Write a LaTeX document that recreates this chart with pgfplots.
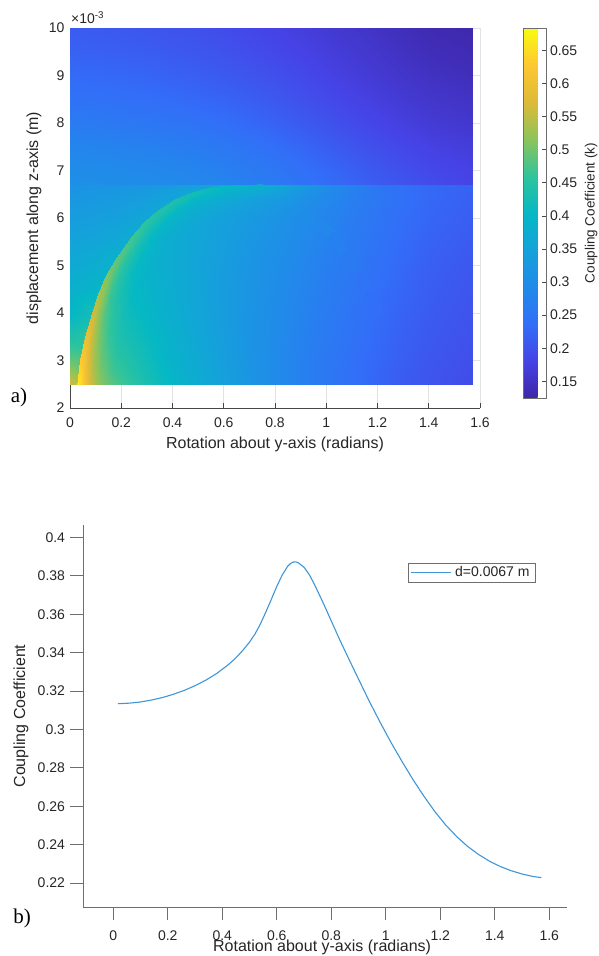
\documentclass[border=0pt]{standalone}
\usepackage{pgfplots}
\pgfplotsset{compat=1.18}
\usepackage{fontspec}
\setmainfont{Liberation Sans}
\newfontfamily\seriffont{Liberation Serif}
\definecolor{txt}{RGB}{38,38,38}
\definecolor{axgray}{RGB}{110,110,110}
\definecolor{axdark}{RGB}{70,70,70}
\definecolor{gridc}{RGB}{226,226,226}
\definecolor{mline}{RGB}{62,150,215}
\newcommand\fs{\fontsize{14bp}{16bp}\selectfont}
\newcommand\fl{\fontsize{16bp}{18bp}\selectfont}
\newcommand\fc{\fontsize{13.5bp}{16bp}\selectfont}
\pgfplotsset{
  /pgf/number format/assume math mode=true,
  colormap={parula}{
    rgb255(0)=(62,38,168)
    rgb255(1)=(70,67,230)
    rgb255(2)=(50,110,248)
    rgb255(3)=(33,138,234)
    rgb255(4)=(20,162,218)
    rgb255(5)=(5,184,196)
    rgb255(6)=(48,196,155)
    rgb255(7)=(140,196,90)
    rgb255(8)=(222,186,55)
    rgb255(9)=(253,200,50)
    rgb255(10)=(249,251,14)
  },
}
\begin{document}
\begin{tikzpicture}
\path[use as bounding box] (0,0) rectangle (599bp,956bp);

% ---------------- panel a ----------------
\begin{axis}[
  at={(70bp,548bp)}, anchor=south west,
  scale only axis, width=410bp, height=380bp,
  xmin=0, xmax=1.6, ymin=2, ymax=10,
  xtick={0,0.2,0.4,0.6,0.8,1,1.2,1.4,1.6},
  xticklabels={0,0.2,0.4,0.6,0.8,1,1.2,1.4,1.6},
  ytick={2,3,4,5,6,7,8,9,10},
  yticklabels={2,3,4,5,6,7,8,9,10},
  axis x line*=bottom, axis y line*=left,
  axis line style={axdark, line width=0.6bp},
  tick align=inside, major tick length=5bp,
  tick style={axdark, line width=0.6bp},
  grid=major, grid style={gridc, line width=0.6bp},
  xticklabel style={font=\fs, text=txt, yshift=-6bp},
  yticklabel style={font=\fs, text=txt, xshift=-2bp},
  every axis x label/.style={at={(axis description cs:0.5,-0.097)}, anchor=center, font=\fl, text=txt},
  every axis y label/.style={at={(axis description cs:-0.0878,0.5)}, rotate=90, anchor=center, font=\fl, text=txt},
  xlabel={Rotation about y-axis (radians)},
  ylabel={displacement along z-axis (m)},
  colormap name=parula,
  point meta min=0.1248, point meta max=0.6837,
  colorbar,
  colorbar style={
    at={(parent axis.north east)}, anchor=north west, xshift=35bp,
    scale only axis, width=23bp, height=370bp,
    ytick={0.15,0.2,0.25,0.3,0.35,0.4,0.45,0.5,0.55,0.6,0.65},
    yticklabels={0.15,0.2,0.25,0.3,0.35,0.4,0.45,0.5,0.55,0.6,0.65},
    ytick pos=right, yticklabel pos=right,
    tick align=inside, major tick length=5bp,
    tick style={axdark, line width=0.6bp},
    axis line style={axgray, line width=0.6bp},
    yticklabel style={font=\fs, text=txt},
    every axis y label/.style={at={(axis description cs:2.935,0.5)}, rotate=90, anchor=center, font=\fc, text=txt},
    ylabel={Coupling Coefficient (k)},
  },
]
% background field
\addplot[surf, shader=interp, mesh/cols=16, point meta=explicit] table[x=x, y=y, meta=v] {
x y v
0 2.5 0.56
0.1 2.5 0.52
0.2 2.5 0.47
0.3 2.5 0.43
0.4 2.5 0.40
0.5 2.5 0.37
0.6 2.5 0.345
0.7 2.5 0.32
0.8 2.5 0.295
0.9 2.5 0.275
1.0 2.5 0.255
1.1 2.5 0.24
1.2 2.5 0.225
1.3 2.5 0.212
1.4 2.5 0.203
1.5708 2.5 0.192
0 3.0 0.49
0.1 3.0 0.48
0.2 3.0 0.45
0.3 3.0 0.42
0.4 3.0 0.39
0.5 3.0 0.365
0.6 3.0 0.34
0.7 3.0 0.317
0.8 3.0 0.295
0.9 3.0 0.275
1.0 3.0 0.257
1.1 3.0 0.242
1.2 3.0 0.228
1.3 3.0 0.216
1.4 3.0 0.206
1.5708 3.0 0.195
0 3.5 0.44
0.1 3.5 0.46
0.2 3.5 0.435
0.3 3.5 0.41
0.4 3.5 0.385
0.5 3.5 0.36
0.6 3.5 0.337
0.7 3.5 0.316
0.8 3.5 0.296
0.9 3.5 0.277
1.0 3.5 0.26
1.1 3.5 0.245
1.2 3.5 0.231
1.3 3.5 0.219
1.4 3.5 0.209
1.5708 3.5 0.198
0 4.0 0.40
0.1 4.0 0.43
0.2 4.0 0.425
0.3 4.0 0.40
0.4 4.0 0.378
0.5 4.0 0.356
0.6 4.0 0.335
0.7 4.0 0.316
0.8 4.0 0.298
0.9 4.0 0.28
1.0 4.0 0.263
1.1 4.0 0.248
1.2 4.0 0.234
1.3 4.0 0.222
1.4 4.0 0.212
1.5708 4.0 0.201
0 4.5 0.383
0.1 4.5 0.395
0.2 4.5 0.415
0.3 4.5 0.395
0.4 4.5 0.374
0.5 4.5 0.354
0.6 4.5 0.335
0.7 4.5 0.317
0.8 4.5 0.30
0.9 4.5 0.283
1.0 4.5 0.267
1.1 4.5 0.252
1.2 4.5 0.238
1.3 4.5 0.226
1.4 4.5 0.215
1.5708 4.5 0.204
0 5.0 0.367
0.1 5.0 0.375
0.2 5.0 0.395
0.3 5.0 0.39
0.4 5.0 0.372
0.5 5.0 0.353
0.6 5.0 0.336
0.7 5.0 0.319
0.8 5.0 0.303
0.9 5.0 0.287
1.0 5.0 0.271
1.1 5.0 0.256
1.2 5.0 0.242
1.3 5.0 0.229
1.4 5.0 0.218
1.5708 5.0 0.207
0 5.5 0.351
0.1 5.5 0.357
0.2 5.5 0.367
0.3 5.5 0.385
0.4 5.5 0.372
0.5 5.5 0.355
0.6 5.5 0.339
0.7 5.5 0.323
0.8 5.5 0.308
0.9 5.5 0.292
1.0 5.5 0.276
1.1 5.5 0.26
1.2 5.5 0.246
1.3 5.5 0.233
1.4 5.5 0.222
1.5708 5.5 0.211
0 6.0 0.335
0.1 6.0 0.34
0.2 6.0 0.347
0.3 6.0 0.358
0.4 6.0 0.372
0.5 6.0 0.36
0.6 6.0 0.345
0.7 6.0 0.33
0.8 6.0 0.315
0.9 6.0 0.299
1.0 6.0 0.282
1.1 6.0 0.265
1.2 6.0 0.25
1.3 6.0 0.237
1.4 6.0 0.226
1.5708 6.0 0.215
0 6.5 0.32
0.1 6.5 0.323
0.2 6.5 0.328
0.3 6.5 0.336
0.4 6.5 0.348
0.5 6.5 0.366
0.6 6.5 0.36
0.7 6.5 0.35
0.8 6.5 0.333
0.9 6.5 0.313
1.0 6.5 0.292
1.1 6.5 0.272
1.2 6.5 0.255
1.3 6.5 0.241
1.4 6.5 0.23
1.5708 6.5 0.219
0 6.7 0.313
0.1 6.7 0.315
0.2 6.7 0.317
0.3 6.7 0.322
0.4 6.7 0.330
0.5 6.7 0.347
0.6 6.7 0.375
0.7 6.7 0.384
0.8 6.7 0.357
0.9 6.7 0.327
1.0 6.7 0.298
1.1 6.7 0.274
1.2 6.7 0.2505
1.3 6.7 0.239
1.4 6.7 0.229
1.5708 6.7 0.223
0 6.71 0.305
0.1 6.71 0.303
0.2 6.71 0.30
0.3 6.71 0.297
0.4 6.71 0.293
0.5 6.71 0.287
0.6 6.71 0.28
0.7 6.71 0.27
0.8 6.71 0.26
0.9 6.71 0.248
1.0 6.71 0.236
1.1 6.71 0.224
1.2 6.71 0.212
1.3 6.71 0.202
1.4 6.71 0.193
1.5708 6.71 0.182
0 7.0 0.298
0.1 7.0 0.296
0.2 7.0 0.293
0.3 7.0 0.29
0.4 7.0 0.286
0.5 7.0 0.28
0.6 7.0 0.272
0.7 7.0 0.263
0.8 7.0 0.253
0.9 7.0 0.242
1.0 7.0 0.23
1.1 7.0 0.218
1.2 7.0 0.207
1.3 7.0 0.197
1.4 7.0 0.188
1.5708 7.0 0.178
0 7.5 0.283
0.1 7.5 0.281
0.2 7.5 0.278
0.3 7.5 0.275
0.4 7.5 0.27
0.5 7.5 0.264
0.6 7.5 0.257
0.7 7.5 0.248
0.8 7.5 0.238
0.9 7.5 0.227
1.0 7.5 0.216
1.1 7.5 0.205
1.2 7.5 0.195
1.3 7.5 0.186
1.4 7.5 0.178
1.5708 7.5 0.169
0 8.0 0.262
0.1 8.0 0.26
0.2 8.0 0.257
0.3 8.0 0.254
0.4 8.0 0.25
0.5 8.0 0.245
0.6 8.0 0.238
0.7 8.0 0.23
0.8 8.0 0.221
0.9 8.0 0.211
1.0 8.0 0.201
1.1 8.0 0.191
1.2 8.0 0.182
1.3 8.0 0.174
1.4 8.0 0.166
1.5708 8.0 0.158
0 8.5 0.245
0.1 8.5 0.243
0.2 8.5 0.241
0.3 8.5 0.238
0.4 8.5 0.234
0.5 8.5 0.229
0.6 8.5 0.223
0.7 8.5 0.216
0.8 8.5 0.208
0.9 8.5 0.199
1.0 8.5 0.19
1.1 8.5 0.181
1.2 8.5 0.172
1.3 8.5 0.164
1.4 8.5 0.157
1.5708 8.5 0.15
0 9.0 0.232
0.1 9.0 0.23
0.2 9.0 0.228
0.3 9.0 0.225
0.4 9.0 0.221
0.5 9.0 0.216
0.6 9.0 0.21
0.7 9.0 0.204
0.8 9.0 0.197
0.9 9.0 0.189
1.0 9.0 0.18
1.1 9.0 0.171
1.2 9.0 0.163
1.3 9.0 0.155
1.4 9.0 0.148
1.5708 9.0 0.141
0 9.5 0.221
0.1 9.5 0.219
0.2 9.5 0.217
0.3 9.5 0.214
0.4 9.5 0.21
0.5 9.5 0.206
0.6 9.5 0.2
0.7 9.5 0.194
0.8 9.5 0.187
0.9 9.5 0.18
1.0 9.5 0.172
1.1 9.5 0.164
1.2 9.5 0.156
1.3 9.5 0.148
1.4 9.5 0.141
1.5708 9.5 0.135
0 10 0.212
0.1 10 0.21
0.2 10 0.208
0.3 10 0.205
0.4 10 0.201
0.5 10 0.197
0.6 10 0.192
0.7 10 0.186
0.8 10 0.179
0.9 10 0.172
1.0 10 0.164
1.1 10 0.157
1.2 10 0.149
1.3 10 0.142
1.4 10 0.135
1.5708 10 0.128
};
\begin{scope}
\clip (axis cs:0,2.5) rectangle (axis cs:1.5708,6.7);
% faint right arc
\addplot[mesh, point meta=explicit, line width=10bp, line cap=round] table[meta=m] {
x y m
0.74 6.62 0.364
0.82 6.45 0.336
0.90 6.22 0.312
0.97 5.93 0.293
1.03 5.60 0.279
1.08 5.20 0.268
1.13 4.80 0.255
1.17 4.40 0.243
1.20 4.00 0.234
};
% ridge ribbon: rows are offsets 0,3,7,13,21,32 px inward from the sharp outer edge
\addplot[surf, shader=interp, mesh/cols=18, point meta=explicit] table[x=x, y=y, meta=m] {
x y m
0.026 2.45 0.665
0.040 3.00 0.63
0.059 3.50 0.595
0.085 4.00 0.56
0.110 4.41 0.535
0.140 4.80 0.51
0.176 5.12 0.49
0.240 5.60 0.47
0.290 5.92 0.455
0.345 6.17 0.445
0.410 6.39 0.435
0.475 6.55 0.425
0.550 6.66 0.415
0.630 6.70 0.40
0.720 6.70 0.385
0.820 6.70 0.358
0.900 6.70 0.332
1.000 6.70 0.298
0.0376 2.45 0.657
0.0515 2.989 0.622
0.0704 3.485 0.588
0.0962 3.982 0.553
0.121 4.388 0.529
0.1505 4.772 0.505
0.1857 5.085 0.485
0.2493 5.562 0.466
0.2983 5.876 0.451
0.3519 6.119 0.441
0.4156 6.334 0.431
0.479 6.491 0.422
0.5522 6.598 0.412
0.6313 6.637 0.397
0.72 6.637 0.381
0.82 6.637 0.355
0.90 6.637 0.33
1.00 6.637 0.298
0.053 2.45 0.617
0.0669 2.974 0.585
0.0856 3.465 0.553
0.1111 3.957 0.523
0.1356 4.359 0.501
0.1644 4.734 0.481
0.1986 5.038 0.463
0.2617 5.510 0.445
0.3094 5.816 0.433
0.361 6.051 0.424
0.423 6.26 0.415
0.4843 6.411 0.406
0.5551 6.515 0.397
0.633 6.554 0.383
0.72 6.553 0.367
0.82 6.553 0.345
0.90 6.553 0.321
1.00 6.553 0.295
0.0762 2.45 0.566
0.09 2.952 0.536
0.1083 3.435 0.508
0.1336 3.921 0.484
0.1575 4.315 0.465
0.1854 4.677 0.449
0.2181 4.967 0.435
0.2802 5.433 0.419
0.326 5.727 0.409
0.3747 5.948 0.401
0.4342 6.149 0.393
0.4922 6.292 0.385
0.5595 6.391 0.377
0.6356 6.428 0.365
0.72 6.426 0.348
0.82 6.426 0.331
0.90 6.426 0.312
1.00 6.426 0.29
0.107 2.45 0.526
0.1207 2.923 0.497
0.1387 3.396 0.472
0.1634 3.872 0.453
0.1868 4.256 0.437
0.2133 4.602 0.424
0.2439 4.873 0.412
0.305 5.331 0.398
0.3482 5.609 0.389
0.393 5.812 0.383
0.449 6.001 0.375
0.5028 6.134 0.368
0.5654 6.226 0.362
0.639 6.261 0.35
0.72 6.258 0.337
0.82 6.258 0.322
0.90 6.258 0.305
1.00 6.258 0.286
0.1495 2.45 0.495
0.163 2.883 0.468
0.1804 3.341 0.445
0.2045 3.805 0.429
0.227 4.176 0.415
0.2516 4.498 0.405
0.2795 4.743 0.395
0.339 5.190 0.382
0.3787 5.446 0.375
0.4182 5.624 0.369
0.4695 5.797 0.362
0.5173 5.916 0.356
0.5735 5.998 0.35
0.6437 6.030 0.339
0.72 6.026 0.328
0.82 6.026 0.313
0.90 6.026 0.298
1.00 6.026 0.281
};
\end{scope}
\end{axis}
\node[font=\fs, text=txt, anchor=base west, inner sep=0pt] at (71bp,932bp) {×10\textsuperscript{-3}};
\node[font=\seriffont\fontsize{21bp}{24bp}\selectfont, text=black] at (19bp,559bp) {a)};

% ---------------- panel b ----------------
\begin{axis}[
  at={(83bp,49bp)}, anchor=south west,
  scale only axis, width=484bp, height=382bp,
  xmin=-0.1112, xmax=1.665, ymin=0.2075, ymax=0.4065,
  axis lines=left, axis line style={-, axgray, line width=0.8bp},
  tick align=outside, major tick length=12.5bp,
  tick style={axgray, line width=0.8bp},
  xtick={0,0.2,0.4,0.6,0.8,1,1.2,1.4,1.6},
  xticklabels={0,0.2,0.4,0.6,0.8,1,1.2,1.4,1.6},
  ytick={0.22,0.24,0.26,0.28,0.3,0.32,0.34,0.36,0.38,0.4},
  yticklabels={0.22,0.24,0.26,0.28,0.3,0.32,0.34,0.36,0.38,0.4},
  xticklabel style={font=\fs, text=txt, yshift=-7.5bp},
  yticklabel style={font=\fs, text=txt, xshift=-2bp},
  every axis x label/.style={at={(axis description cs:0.494,-0.1047)}, anchor=center, font=\fl, text=txt},
  every axis y label/.style={at={(axis description cs:-0.128,0.5)}, rotate=90, anchor=center, font=\fl, text=txt},
  xlabel={Rotation about y-axis (radians)},
  ylabel={Coupling Coefficient},
  legend style={at={(0.671,0.9005)}, anchor=north west, draw=axgray, line width=0.6bp,
    font=\fs, text=txt, inner xsep=2bp, inner ysep=1bp, nodes={inner ysep=2.5bp, inner xsep=4bp}},
  legend cell align=left,
  legend image code/.code={\draw[#1] (0bp,0bp) -- (40bp,0bp);},
]
\addplot[mline, line width=1.1bp] table {
x y
0.017 0.3134
0.06 0.3137
0.10 0.3143
0.14 0.3153
0.18 0.3166
0.22 0.3183
0.26 0.3203
0.30 0.3228
0.34 0.3257
0.38 0.3292
0.42 0.3335
0.44 0.3360
0.46 0.3388
0.48 0.3420
0.50 0.3455
0.52 0.3497
0.54 0.3550
0.56 0.3612
0.58 0.3678
0.60 0.3745
0.62 0.3805
0.64 0.3850
0.65 0.3864
0.66 0.3872
0.67 0.3873
0.68 0.3867
0.70 0.3845
0.72 0.3805
0.74 0.3750
0.77 0.3660
0.80 0.3565
0.83 0.3470
0.86 0.3380
0.90 0.3262
0.94 0.3145
0.98 0.3035
1.02 0.2930
1.06 0.2832
1.10 0.2738
1.14 0.2652
1.18 0.2572
1.22 0.2502
1.26 0.2442
1.30 0.2391
1.34 0.2349
1.38 0.2314
1.42 0.2286
1.46 0.2264
1.50 0.2247
1.54 0.2234
1.5708 0.2228
};
\legend{d=0.0067 m}
\end{axis}
\node[font=\seriffont\fontsize{21bp}{24bp}\selectfont, text=black] at (22bp,38bp) {b)};
\end{tikzpicture}
\end{document}
